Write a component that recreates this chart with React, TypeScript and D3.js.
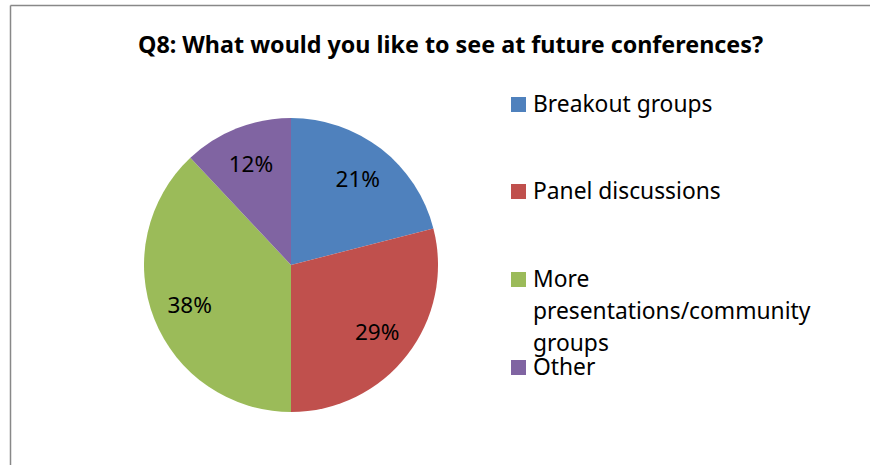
import React from 'react';
import * as d3 from 'd3';

// Chart data
const categories = ['Breakout groups', 'Panel discussions', 'More presentations/community groups', 'Other'];
const shares = [21, 29, 38, 12];
const sliceColors = ['#4F81BD', '#C0504D', '#9BBB59', '#8064A2'];
// legend text as it wraps in the original
const legendLines = [['Breakout groups'], ['Panel discussions'], ['More', 'presentations/community', 'groups'], ['Other']];
const titleText = 'Q8: What would you like to see at future conferences?';

const W = 873;
const H = 465;
const FONT = "'Noto Sans', sans-serif";

const cx = 291;
const cy = 265;
const radius = 147;
const labelRadius = 109;

const App: React.FC = () => {
  const pie = d3.pie<number>().sort(null).value(d => d);
  const arcs = pie(shares);
  const arcGen = d3.arc<d3.PieArcDatum<number>>().innerRadius(0).outerRadius(radius);
  const labelArc = d3.arc<d3.PieArcDatum<number>>().innerRadius(labelRadius).outerRadius(labelRadius);

  // legend item tops (square top), wrapped lines 32px apart
  const legendTops = [97, 184, 272, 360];

  return (
    <svg width={W} height={H} style={{ position: 'absolute', left: 0, top: 0, background: '#fff' }}>
      {/* chart area border (only top and left are visible in the crop) */}
      <line x1={10.5} y1={5.5} x2={870} y2={5.5} stroke="#888" strokeWidth={1.5} />
      <line x1={10.5} y1={5.5} x2={10.5} y2={H} stroke="#888" strokeWidth={1.5} />

      <text x={450.5} y={53} textAnchor="middle" fontFamily={FONT} fontWeight="bold" fontSize={23.3} fill="#000">
        {titleText}
      </text>

      <g transform={`translate(${cx},${cy})`}>
        {arcs.map((a, i) => (
          <path key={categories[i]} d={arcGen(a) || ''} fill={sliceColors[i]} />
        ))}
        {arcs.map((a, i) => {
          const [lx, ly] = labelArc.centroid(a);
          return (
            <text key={`lbl-${i}`} x={lx} y={ly} dy="0.35em" textAnchor="middle" fontFamily={FONT} fontSize={22.5} fill="#000">
              {`${shares[i]}%`}
            </text>
          );
        })}
      </g>

      <g fontFamily={FONT} fontSize={22.8} fill="#000">
        {legendLines.map((lines, i) => (
          <g key={categories[i]}>
            <rect x={511} y={legendTops[i]} width={15} height={15} fill={sliceColors[i]} />
            {lines.map((ln, j) => (
              <text key={j} x={533} y={legendTops[i] + 15 + j * 32}>{ln}</text>
            ))}
          </g>
        ))}
      </g>
    </svg>
  );
};

export default App;
